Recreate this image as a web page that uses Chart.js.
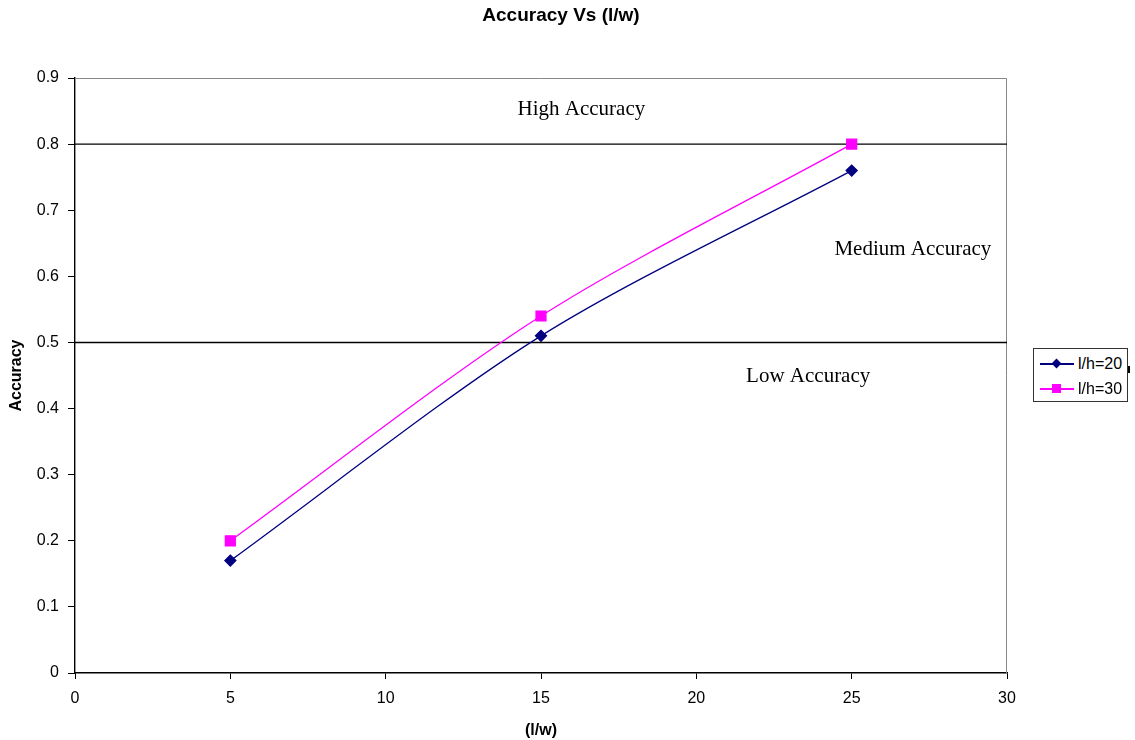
<!DOCTYPE html>
<html>
<head>
<meta charset="utf-8">
<script src="https://cdn.jsdelivr.net/npm/chart.js@4.4.1/dist/chart.umd.min.js"></script>
<style>
    html, body { margin: 0; padding: 0; background: #ffffff; }
    #wrap { position: relative; width: 1135px; height: 740px; }
    #legend {
        position: absolute; left: 1033px; top: 348px; width: 93px; height: 52px;
        border: 1px solid #333; background: #fff;
        font-family: "Liberation Sans", Arial, sans-serif; font-size: 16px; color: #000;
    }
    .row { position: absolute; left: 0; height: 20px; width: 93px; }
    .ln { position: absolute; left: 6px; width: 34px; top: 9px; height: 2px; }
    .mk { position: absolute; }
    .tx { position: absolute; left: 44px; top: 0px; line-height: 20px; }
    #nick { position: absolute; left: 1128px; top: 366px; width: 2px; height: 7px; background: #000; }
</style>
</head>
<body>
<div id="wrap">
    <canvas id="acc" width="1135" height="740"></canvas>
    <div id="legend">
        <div class="row" style="top:5px">
            <div class="ln" style="background:#000080"></div>
            <div class="mk" style="left:19px;top:6px;width:7px;height:7px;background:#000080;transform:rotate(45deg)"></div>
            <div class="tx">l/h=20</div>
        </div>
        <div class="row" style="top:30px">
            <div class="ln" style="background:#ff00ff"></div>
            <div class="mk" style="left:18px;top:5px;width:9px;height:9px;background:#ff00ff"></div>
            <div class="tx">l/h=30</div>
        </div>
    </div>
    <div id="nick"></div>
</div>
<script>
// data
const lwValues = [5, 15, 25];
const accLh20 = [0.17, 0.51, 0.76];
const accLh30 = [0.20, 0.54, 0.80];
const bandLimits = [0.5, 0.8];
const bandLabels = [
    { text: 'High Accuracy', x: 16.3, y: 0.852 },
    { text: 'Medium Accuracy', x: 26.97, y: 0.64 },
    { text: 'Low Accuracy', x: 23.6, y: 0.448 }
];

function pts(xs, ys) {
    return xs.map((x, i) => ({ x: x, y: ys[i] }));
}

// frame, title and band texts
const extras = {
    id: 'extras',
    beforeDatasetsDraw(chart) {
        const a = chart.chartArea, ctx = chart.ctx;
        ctx.save();
        ctx.strokeStyle = '#888';
        ctx.lineWidth = 1;
        ctx.beginPath();
        ctx.moveTo(a.left, a.top + 0.5);
        ctx.lineTo(a.right - 0.5, a.top + 0.5);
        ctx.lineTo(a.right - 0.5, a.bottom);
        ctx.stroke();
        ctx.restore();
    },
    afterDatasetsDraw(chart) {
        const ctx = chart.ctx, xs = chart.scales.x, ys = chart.scales.y;
        ctx.save();
        ctx.fillStyle = '#000';
        ctx.textAlign = 'center';
        ctx.textBaseline = 'middle';
        ctx.font = '21px "Liberation Serif", "Times New Roman", serif';
        bandLabels.forEach(l => {
            ctx.fillText(l.text, xs.getPixelForValue(l.x), ys.getPixelForValue(l.y));
        });
        ctx.font = 'bold 19px "Liberation Sans", Arial, sans-serif';
        ctx.fillText('Accuracy Vs (l/w)', 561, 16);
        ctx.restore();
    }
};

const axisFont = { family: '"Liberation Sans", Arial, sans-serif', size: 16 };
const titleFont = { family: '"Liberation Sans", Arial, sans-serif', size: 16, weight: 'bold' };

new Chart(document.getElementById('acc'), {
    type: 'line',
    data: {
        datasets: [
            {
                label: 'l/h=20',
                data: pts(lwValues, accLh20),
                borderColor: '#000080',
                backgroundColor: '#000080',
                borderWidth: 1.3,
                pointStyle: 'rectRot',
                pointRadius: 5.5,
                tension: 0.3
            },
            {
                label: 'l/h=30',
                data: pts(lwValues, accLh30),
                borderColor: '#ff00ff',
                backgroundColor: '#ff00ff',
                borderWidth: 1.3,
                pointStyle: 'rect',
                pointRadius: 7,
                tension: 0.3
            },
            ...bandLimits.map(v => ({
                label: 'limit ' + v,
                data: [{ x: 0, y: v }, { x: 30, y: v }],
                borderColor: '#000',
                borderWidth: 1.4,
                pointRadius: 0,
                tension: 0
            }))
        ]
    },
    options: {
        responsive: false,
        animation: false,
        layout: { padding: { top: 78, right: 128, bottom: 0, left: 0 } },
        plugins: {
            legend: { display: false },
            tooltip: { enabled: false }
        },
        scales: {
            x: {
                type: 'linear',
                min: 0,
                max: 30,
                ticks: { stepSize: 5, color: '#000', padding: 10, font: axisFont },
                grid: { drawOnChartArea: false, tickLength: 6, color: '#000' },
                border: { color: '#000', width: 1.4 },
                title: {
                    display: true,
                    text: '(l/w)',
                    color: '#000',
                    padding: { top: 4, bottom: 0 },
                    font: titleFont
                },
                afterFit(s) { s.height = 67; }
            },
            y: {
                min: 0,
                max: 0.9,
                ticks: { stepSize: 0.1, color: '#000', padding: 9, font: axisFont },
                grid: { drawOnChartArea: false, tickLength: 7, color: '#000' },
                border: { color: '#000', width: 1.4 },
                title: {
                    display: true,
                    text: 'Accuracy',
                    color: '#000',
                    padding: { top: 7, bottom: 4 },
                    font: titleFont
                },
                afterFit(s) { s.width = 75; }
            }
        }
    },
    plugins: [extras]
});
</script>
</body>
</html>
